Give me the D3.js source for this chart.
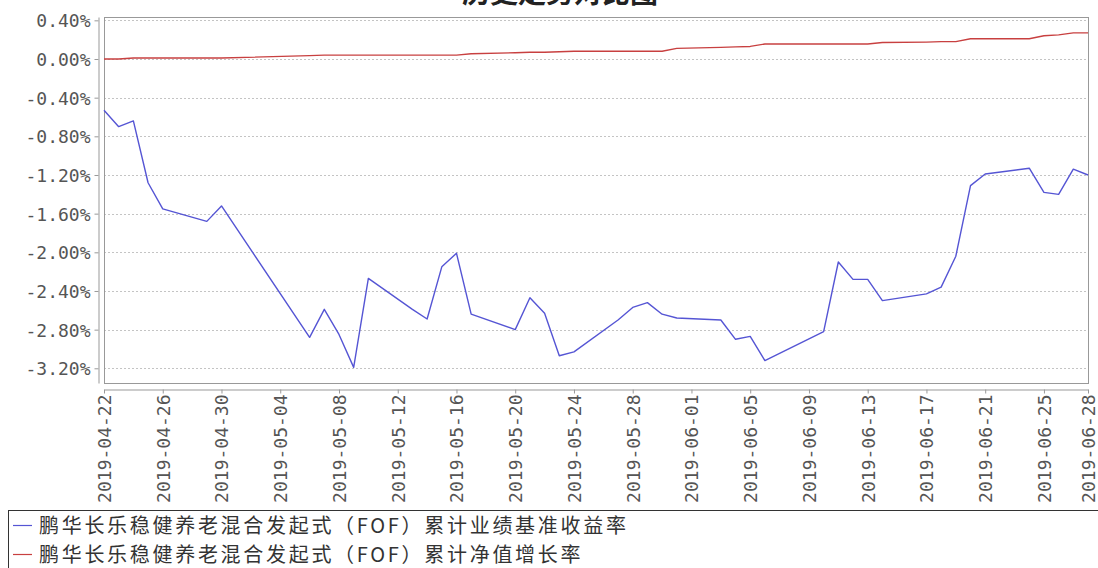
<!DOCTYPE html>
<html>
<head>
<meta charset="utf-8">
<script src="https://cdn.jsdelivr.net/npm/d3@7/dist/d3.min.js"></script>
<style>
  html, body { margin: 0; padding: 0; background: #fff; overflow: hidden; }
  .tick text { font-family: "DejaVu Sans Mono", monospace; font-size: 18px; fill: #555; }
  .legend text { font-family: "Noto Sans CJK SC", sans-serif; font-size: 20px; fill: #333; letter-spacing: 2.7px; }
</style>
</head>
<body>
<div id="chart"></div>
<script>
(function() {
  'use strict';

  var title = '历史走势对比图';
  var seriesNames = [
    '鹏华长乐稳健养老混合发起式（FOF）累计业绩基准收益率',
    '鹏华长乐稳健养老混合发起式（FOF）累计净值增长率'
  ];
  var seriesColors = ['#5555d4', '#c84040'];

  var dates = [
    '2019-04-22', '2019-04-23', '2019-04-24', '2019-04-25', '2019-04-26',
    '2019-04-29', '2019-04-30',
    '2019-05-06', '2019-05-07', '2019-05-08', '2019-05-09', '2019-05-10',
    '2019-05-13', '2019-05-14', '2019-05-15', '2019-05-16', '2019-05-17',
    '2019-05-20', '2019-05-21', '2019-05-22', '2019-05-23', '2019-05-24',
    '2019-05-27', '2019-05-28', '2019-05-29', '2019-05-30', '2019-05-31',
    '2019-06-03', '2019-06-04', '2019-06-05', '2019-06-06',
    '2019-06-10', '2019-06-11', '2019-06-12', '2019-06-13', '2019-06-14',
    '2019-06-17', '2019-06-18', '2019-06-19', '2019-06-20', '2019-06-21',
    '2019-06-24', '2019-06-25', '2019-06-26', '2019-06-27', '2019-06-28'
  ];

  // 累计业绩基准收益率 (%)
  var benchmark = [
    -0.53, -0.70, -0.64, -1.28, -1.55,
    -1.68, -1.52,
    -2.88, -2.59, -2.85, -3.19, -2.27,
    -2.59, -2.69, -2.15, -2.01, -2.64,
    -2.80, -2.47, -2.63, -3.07, -3.03,
    -2.70, -2.57, -2.52, -2.64, -2.68,
    -2.70, -2.90, -2.87, -3.12,
    -2.82, -2.10, -2.28, -2.28, -2.50,
    -2.43, -2.36, -2.04, -1.31, -1.19,
    -1.13, -1.38, -1.40, -1.14, -1.20
  ];

  // 累计净值增长率 (%)
  var nav = [
    0.00, 0.00, 0.01, 0.01, 0.01,
    0.01, 0.01,
    0.035, 0.04, 0.04, 0.04, 0.04,
    0.04, 0.04, 0.04, 0.04, 0.055,
    0.065, 0.07, 0.07, 0.075, 0.08,
    0.08, 0.08, 0.08, 0.08, 0.11,
    0.12, 0.125, 0.13, 0.155,
    0.155, 0.155, 0.155, 0.155, 0.17,
    0.175, 0.18, 0.18, 0.21, 0.21,
    0.21, 0.24, 0.25, 0.27, 0.27
  ];

  var xTickLabels = [
    '2019-04-22', '2019-04-26', '2019-04-30', '2019-05-04', '2019-05-08',
    '2019-05-12', '2019-05-16', '2019-05-20', '2019-05-24', '2019-05-28',
    '2019-06-01', '2019-06-05', '2019-06-09', '2019-06-13', '2019-06-17',
    '2019-06-21', '2019-06-25', '2019-06-28'
  ];
  var yTicks = [0.4, 0, -0.4, -0.8, -1.2, -1.6, -2.0, -2.4, -2.8, -3.2];

  var W = 1098, H = 568;
  var plot = { left: 104, right: 1088, top: 17, bottom: 383 };
  var parse = d3.timeParse('%Y-%m-%d');

  var svg = d3.select('#chart').append('svg')
    .attr('width', W)
    .attr('height', H);

  var x = d3.scaleTime()
    .domain([parse(xTickLabels[0]), parse(xTickLabels[xTickLabels.length - 1])])
    .range([plot.left, plot.right]);

  var y = d3.scaleLinear()
    .domain([-3.352, 0.4345])
    .range([plot.bottom, plot.top]);

  // title (mostly cropped at top, as in the source image)
  svg.append('text')
    .attr('x', 560)
    .attr('y', 3)
    .attr('text-anchor', 'middle')
    .style('font-family', '"Noto Sans CJK SC", sans-serif')
    .style('font-size', '28px')
    .style('font-weight', 'bold')
    .style('fill', '#222')
    .text(title);

  // grid lines
  svg.append('g').selectAll('line')
    .data(yTicks)
    .enter().append('line')
    .attr('x1', plot.left)
    .attr('x2', plot.right)
    .attr('y1', function(d) { return Math.round(y(d)) + 0.5; })
    .attr('y2', function(d) { return Math.round(y(d)) + 0.5; })
    .attr('stroke', '#c4c4c4')
    .attr('stroke-dasharray', '2,2');

  // plot frame
  svg.append('rect')
    .attr('x', plot.left + 0.5)
    .attr('y', plot.top + 0.5)
    .attr('width', plot.right - plot.left)
    .attr('height', plot.bottom - plot.top)
    .attr('fill', 'none')
    .attr('stroke', '#999');

  // y axis (offset to the left of the frame)
  var yAxis = d3.axisLeft(y)
    .tickValues(yTicks)
    .tickSize(4)
    .tickSizeOuter(0)
    .tickPadding(4)
    .tickFormat(function(d) { return d.toFixed(2) + '%'; });

  var gy = svg.append('g')
    .attr('transform', 'translate(98.5,0)')
    .call(yAxis);
  gy.select('.domain').attr('stroke', '#999');
  gy.selectAll('.tick line').attr('stroke', '#999');
  gy.selectAll('.tick text').attr('dy', '0.36em');

  // x axis (offset below the frame)
  var xAxis = d3.axisBottom(x)
    .tickValues(xTickLabels.map(parse))
    .tickSize(4)
    .tickSizeOuter(0)
    .tickFormat(d3.timeFormat('%Y-%m-%d'));

  var gx = svg.append('g')
    .attr('transform', 'translate(0,389.5)')
    .call(xAxis);
  gx.select('.domain').attr('stroke', '#999');
  gx.selectAll('.tick line').attr('stroke', '#999');
  gx.selectAll('.tick text')
    .attr('transform', 'rotate(-90)')
    .attr('text-anchor', 'end')
    .attr('x', -5)
    .attr('y', 0)
    .attr('dy', '0.36em');

  // lines
  var series = [benchmark, nav];
  var line = d3.line()
    .x(function(d) { return x(parse(d.date)); })
    .y(function(d) { return y(d.value); });

  series.forEach(function(values, s) {
    var pts = dates.map(function(d, i) { return { date: d, value: values[i] }; });
    svg.append('path')
      .datum(pts)
      .attr('fill', 'none')
      .attr('stroke', seriesColors[s])
      .attr('stroke-width', 1.4)
      .attr('stroke-linejoin', 'round')
      .attr('d', line);
  });

  // legend
  var legend = svg.append('g').attr('class', 'legend');
  legend.append('rect')
    .attr('x', 8.5)
    .attr('y', 510.5)
    .attr('width', 1100)
    .attr('height', 80)
    .attr('fill', 'none')
    .attr('stroke', '#333');

  seriesNames.forEach(function(name, i) {
    var cy = 525 + i * 29;
    legend.append('line')
      .attr('x1', 13)
      .attr('x2', 32)
      .attr('y1', cy + 0.5)
      .attr('y2', cy + 0.5)
      .attr('stroke', seriesColors[i])
      .attr('stroke-width', 1.2);
    legend.append('text')
      .attr('x', 39)
      .attr('y', cy + 8)
      .text(name);
  });
})();
</script>
</body>
</html>
